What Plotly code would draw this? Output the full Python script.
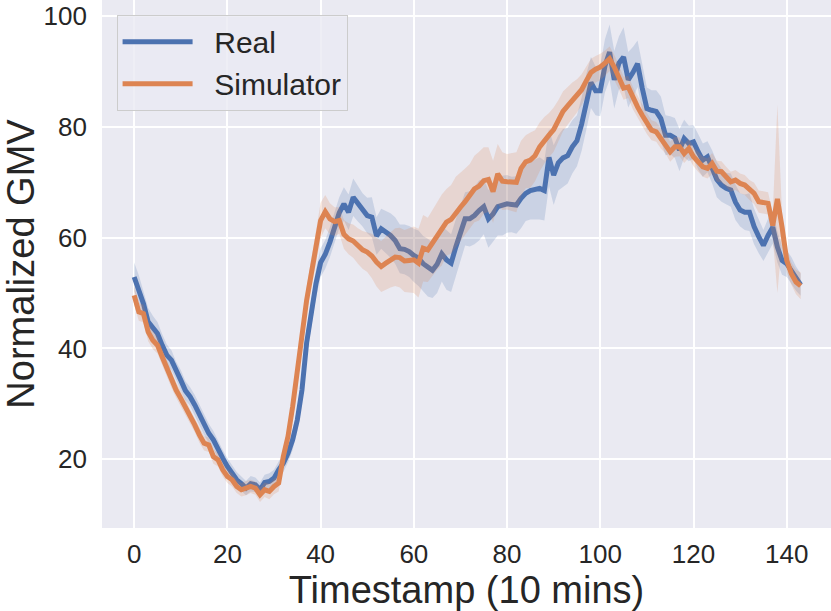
import plotly.graph_objects as go

# timestamps, one every 10 minutes
timestamps = list(range(144))

real_gmv = [
    52.9, 50.8, 48.1, 44.8, 43.6, 42.7, 40.6, 38.8, 37.9, 35.8,
    34.3, 32.4, 31.3, 29.8, 28.0, 26.2, 24.7, 23.5, 21.7, 20.2,
    18.7, 17.5, 16.3, 15.6, 14.8, 15.6, 15.4, 14.5, 15.8, 16.0,
    16.6, 18.1, 19.3, 21.1, 23.5, 27.1, 32.5, 41.0, 46.3, 51.7,
    55.5, 57.0, 59.2, 61.9, 64.5, 66.1, 64.6, 67.3, 66.1, 65.0,
    64.0, 63.7, 60.3, 61.6, 61.0, 60.4, 59.5, 58.0, 57.9, 57.5,
    56.8, 56.3, 55.3, 54.6, 54.1, 55.2, 57.1, 56.0, 55.4, 58.3,
    60.9, 63.4, 63.4, 64.0, 64.9, 65.6, 63.4, 64.3, 65.6, 65.8,
    66.1, 66.0, 65.9, 67.1, 68.0, 68.5, 68.7, 68.9, 68.5, 74.5,
    71.3, 73.5, 74.4, 74.8, 76.4, 77.5, 80.5, 84.5, 88.0, 86.5,
    86.5, 91.0, 93.5, 88.5, 91.5, 92.6, 88.5, 89.8, 91.4, 87.0,
    83.3, 83.0, 82.8, 81.5, 78.5, 78.5, 78.0, 75.8, 77.9, 77.0,
    77.3, 75.5, 74.0, 74.6, 72.8, 70.5, 69.5, 68.9, 68.6, 66.4,
    65.0, 64.6, 64.6, 62.0, 60.2, 58.6, 60.4, 61.9, 58.3, 55.9,
    55.3, 54.1, 52.6, 51.5,
]

sim_gmv = [
    49.6, 46.6, 46.3, 43.0, 41.5, 40.6, 38.5, 36.4, 34.3, 32.5,
    31.0, 29.5, 27.7, 26.2, 24.4, 22.9, 22.6, 20.5, 19.9, 18.1,
    16.9, 16.3, 15.1, 14.5, 14.8, 15.1, 14.8, 13.6, 14.5, 14.2,
    15.1, 15.7, 20.5, 24.1, 29.5, 36.1, 42.7, 48.7, 53.5, 58.3,
    63.1, 64.7, 63.4, 62.9, 63.1, 60.6, 59.8, 59.4, 58.5, 57.8,
    57.4, 56.7, 55.6, 54.8, 55.4, 56.0, 56.5, 56.4, 55.8, 55.9,
    56.0, 55.4, 58.1, 57.8, 59.0, 60.4, 61.4, 62.8, 63.3, 64.6,
    65.5, 66.5, 67.5, 68.8, 69.3, 70.3, 70.5, 68.3, 71.5, 70.2,
    70.1, 70.0, 70.0, 72.5, 73.7, 74.0, 74.8, 76.4, 77.6, 78.5,
    79.5, 81.0, 82.8, 83.8, 84.8, 85.6, 86.7, 88.3, 89.8, 90.4,
    90.8, 91.5, 92.3, 90.8, 89.0, 87.0, 87.2, 85.2, 83.6, 82.1,
    80.6, 79.4, 79.1, 77.9, 77.0, 75.5, 76.4, 76.4, 75.2, 76.1,
    74.6, 73.7, 72.8, 72.5, 73.4, 72.0, 71.9, 71.0, 70.1, 70.4,
    69.8, 69.5, 68.6, 68.0, 66.5, 66.4, 66.2, 62.2, 67.0, 61.9,
    55.9, 53.5, 52.0, 51.3,
]

# half width of the confidence band around each line
real_ci = [
    2.6, 2.4, 2.2, 2.5, 2.3, 2.1, 2.0, 1.9, 1.8, 1.8,
    1.8, 1.7, 1.7, 1.8, 1.9, 1.8, 1.7, 1.6, 1.6, 1.5,
    1.5, 1.4, 1.4, 1.3, 1.3, 1.4, 1.3, 1.3, 1.4, 1.5,
    1.5, 1.5, 1.6, 1.7, 1.8, 2.0, 2.2, 2.4, 2.5, 2.6,
    2.6, 2.6, 2.7, 2.8, 2.8, 3.0, 3.2, 3.4, 3.2, 3.0,
    3.2, 3.6, 3.4, 3.6, 3.8, 4.0, 4.2, 4.4, 4.5, 4.6,
    4.8, 5.0, 5.0, 5.2, 5.0, 5.2, 5.0, 5.4, 5.2, 5.0,
    5.0, 4.8, 5.0, 5.2, 5.4, 5.0, 5.2, 5.0, 5.2, 5.4,
    5.2, 5.0, 5.2, 5.4, 5.0, 5.2, 5.4, 5.6, 5.4, 5.2,
    5.4, 5.0, 5.2, 5.0, 4.8, 4.6, 4.8, 5.0, 4.6, 4.4,
    4.6, 4.8, 5.0, 5.2, 4.8, 5.4, 5.0, 4.6, 4.2, 4.0,
    3.8, 3.6, 3.8, 4.0, 3.6, 3.4, 3.6, 3.8, 3.4, 3.2,
    3.0, 3.2, 3.0, 2.8, 3.0, 3.2, 3.0, 2.8, 3.0, 3.2,
    3.0, 3.2, 3.4, 3.2, 3.0, 2.8, 3.0, 3.0, 2.8, 2.6,
    2.4, 2.4, 2.2, 2.0,
]

sim_ci = [
    1.8, 1.6, 1.6, 1.7, 1.6, 1.5, 1.5, 1.5, 1.4, 1.4,
    1.4, 1.4, 1.3, 1.3, 1.4, 1.3, 1.3, 1.3, 1.2, 1.2,
    1.2, 1.2, 1.2, 1.2, 1.3, 1.2, 1.2, 1.3, 1.3, 1.4,
    1.4, 1.5, 1.6, 1.7, 1.8, 2.0, 2.2, 2.4, 2.6, 2.8,
    3.2, 3.0, 2.8, 2.6, 2.4, 2.6, 2.8, 3.0, 3.2, 3.4,
    3.6, 4.0, 4.4, 4.6, 4.8, 5.0, 5.2, 5.4, 5.6, 5.8,
    6.0, 6.2, 6.0, 5.8, 6.0, 6.2, 6.4, 6.0, 6.2, 6.4,
    6.2, 6.0, 5.8, 6.0, 6.2, 6.0, 5.8, 5.6, 5.4, 5.2,
    5.0, 5.2, 5.4, 5.0, 4.8, 5.0, 4.6, 4.4, 4.2, 4.0,
    4.0, 3.8, 3.6, 3.4, 3.2, 3.0, 2.8, 2.6, 2.5, 2.4,
    2.4, 2.3, 2.2, 2.2, 2.2, 2.1, 2.0, 2.0, 2.0, 1.9,
    1.9, 1.8, 1.8, 1.8, 1.8, 1.8, 1.8, 1.7, 1.7, 1.7,
    1.7, 1.8, 1.8, 1.8, 1.9, 1.9, 1.9, 1.8, 1.8, 1.8,
    1.8, 1.8, 1.8, 1.9, 2.0, 2.0, 2.0, 2.2, 17.0, 2.4,
    2.2, 2.0, 2.2, 2.4,
]

x_ticks = [0, 20, 40, 60, 80, 100, 120, 140]
y_ticks = [20, 40, 60, 80, 100]

BLUE = "#4c72b0"
ORANGE = "#dd8452"
TEXT = "#262626"
FONT = "Arial, Liberation Sans, sans-serif"
GAP = "\u00a0\u00a0"  # small gap between legend line and label

series = [
    ("Real", real_gmv, real_ci, BLUE, "rgba(76,114,176,0.2)"),
    ("Simulator", sim_gmv, sim_ci, ORANGE, "rgba(221,132,82,0.2)"),
]

fig = go.Figure()
for name, vals, ci, line_color, band_color in series:
    upper = [v + e for v, e in zip(vals, ci)]
    lower = [v - e for v, e in zip(vals, ci)]
    fig.add_trace(go.Scatter(
        x=timestamps + timestamps[::-1],
        y=upper + lower[::-1],
        fill="toself",
        fillcolor=band_color,
        line=dict(width=0),
        hoverinfo="skip",
        showlegend=False,
    ))
    fig.add_trace(go.Scatter(
        x=timestamps, y=vals, mode="lines", name=GAP + name,
        line=dict(color=line_color, width=5),
    ))

fig.update_layout(
    width=831, height=611,
    margin=dict(l=102, r=0, t=0, b=83),
    paper_bgcolor="white",
    plot_bgcolor="#eaeaf2",
    font=dict(family=FONT, color=TEXT, size=26),
    legend=dict(
        x=0.02, y=0.972, xanchor="left", yanchor="top",
        bgcolor="rgba(234,234,242,0.8)",
        bordercolor="#cccccc", borderwidth=1,
        font=dict(size=30, color=TEXT),
        itemwidth=70,
    ),
)
fig.update_xaxes(
    range=[-6.9, 149.5], tickvals=x_ticks,
    showgrid=True, gridcolor="white", gridwidth=1.5,
    zeroline=False, showline=False, ticks="",
    automargin=False,
    ticklabelstandoff=8,
    tickfont=dict(size=26, color=TEXT),
    title=dict(text="Timestamp (10 mins)", font=dict(size=38, color=TEXT), standoff=4),
)
fig.update_yaxes(
    range=[7.6, 102.9], tickvals=y_ticks,
    showgrid=True, gridcolor="white", gridwidth=1.5,
    zeroline=False, showline=False, ticks="",
    automargin=False,
    ticklabelstandoff=14,
    tickfont=dict(size=26, color=TEXT),
    title=dict(text="Normalized GMV", font=dict(size=38, color=TEXT), standoff=4),
)

# page body has an 8px default margin; drop it so the figure sits at the corner
fig.write_html(
    "out.html",
    config={"displayModeBar": False},
    post_script="document.body.style.margin = '0';",
)
